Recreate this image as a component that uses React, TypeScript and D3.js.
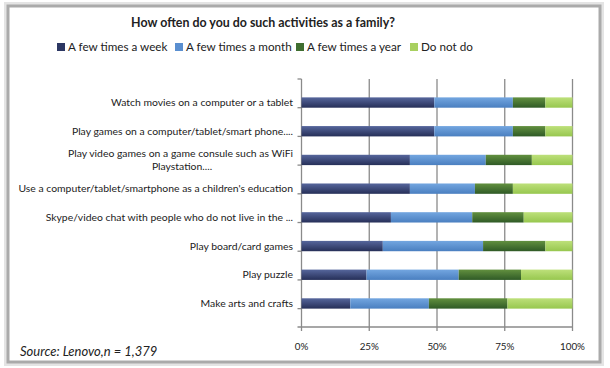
import React from 'react';
import * as d3 from 'd3';

const categories = [
  'Watch movies on a computer or a tablet',
  'Play games on a computer/tablet/smart phone....',
  'Play video games on a game consule such as WiFi|Playstation....',
  "Use a computer/tablet/smartphone as a children's education",
  'Skype/video chat with people who do not live in the ...',
  'Play board/card games',
  'Play puzzle',
  'Make arts and crafts',
];

const series = ['A few times a week', 'A few times a month', 'A few times a year', 'Do not do'];

const weekly = [49, 49, 40, 40, 33, 30, 24, 18];
const monthly = [29, 29, 28, 24, 30, 37, 34, 29];
const yearly = [12, 12, 17, 14, 19, 23, 23, 29];
const never = [10, 10, 15, 22, 18, 10, 19, 24];

const xTicks = [0, 0.25, 0.5, 0.75, 1];

// gradient stops per series (top, bottom)
const colors: [string, string][] = [
  ['#56669c', '#262f58'],
  ['#73a6e0', '#4a7fc0'],
  ['#62903f', '#2f5a26'],
  ['#bde07a', '#97c74f'],
];
const legendColors = ['#2c3763', '#5a8fd0', '#3f6e30', '#a8d060'];
const legendX = [57, 175, 296, 410];

const W = 610;
const H = 368;
const font = 'Lato, "Open Sans", sans-serif';

export default function App() {
  const rows = categories.map((c, i) => ({
    cat: c,
    [series[0]]: weekly[i],
    [series[1]]: monthly[i],
    [series[2]]: yearly[i],
    [series[3]]: never[i],
  }));
  const stacked = d3.stack<any>().keys(series).offset(d3.stackOffsetExpand)(rows);

  const x = d3.scaleLinear().domain([0, 1]).range([301.5, 572.5]);
  const y = d3.scaleBand().domain(categories).range([79, 327]).padding(0.64);
  const step = y.step();
  const top = 79;
  const bottom = 327;

  return (
    <svg width={W} height={H} style={{ position: 'absolute', left: 0, top: 0 }} fontFamily={font}>
      <defs>
        {colors.map((c, i) => (
          <linearGradient key={i} id={`g${i}`} x1="0" y1="0" x2="0" y2="1">
            <stop offset="0%" stopColor={c[0]} />
            <stop offset="100%" stopColor={c[1]} />
          </linearGradient>
        ))}
      </defs>
      <rect x={0} y={0} width={W} height={H} fill="#fff" />
      <rect x={5.5} y={3.5} width={597} height={361} fill="none" stroke="#e4e4e4" strokeWidth={3} />
      <rect x={8} y={6} width={592} height={356} fill="#fff" stroke="#aaa" strokeWidth={3} />

      <text x={263} y={27} textAnchor="middle" fontSize={12.4} fontWeight="bold" fill="#222">
        How often do you do such activities as a family?
      </text>

      {series.map((s, i) => (
        <g key={s} transform={`translate(${legendX[i]},51)`}>
          <rect x={0} y={-8} width={8} height={8} fill={legendColors[i]} />
          <text x={11} y={0} fontSize={11.7} fill="#222">{s}</text>
        </g>
      ))}

      {/* grid lines */}
      {xTicks.map((t) => (
        <line key={t} x1={x(t)} x2={x(t)} y1={top} y2={bottom + 4} stroke="#8a8a8a" strokeWidth={1.3} />
      ))}
      <line x1={x(0) - 4} x2={x(1)} y1={bottom} y2={bottom} stroke="#8a8a8a" strokeWidth={1.3} />
      {d3.range(categories.length + 1).map((i) => (
        <line key={i} x1={x(0) - 4} x2={x(0)} y1={top + i * step} y2={top + i * step} stroke="#8a8a8a" strokeWidth={1.3} />
      ))}

      {stacked.map((layer, si) => (
        <g key={layer.key} fill={`url(#g${si})`}>
          {layer.map((d, i) => (
            <rect
              key={i}
              x={x(d[0])}
              y={y(categories[i])}
              width={x(d[1]) - x(d[0])}
              height={y.bandwidth()}
            />
          ))}
        </g>
      ))}

      {categories.map((c) => {
        const lines = c.split('|');
        const cy = (y(c) as number) + y.bandwidth() / 2;
        return (
          <text key={c} fontSize={10.4} fill="#222">
            {lines.map((l, j) => (
              <tspan
                key={j}
                x={j === 0 ? 293 : 182}
                textAnchor={j === 0 ? 'end' : 'middle'}
                y={cy + 3.5 + (j - (lines.length - 1) / 2) * 13}
              >
                {l}
              </tspan>
            ))}
          </text>
        );
      })}

      {xTicks.map((t) => (
        <text key={t} x={x(t)} y={350} textAnchor="middle" fontSize={9.8} fill="#222">
          {d3.format('.0%')(t)}
        </text>
      ))}

      <text x={20} y={356} fontSize={13} fontStyle="italic" fill="#222">
        Source: Lenovo,n = 1,379
      </text>
    </svg>
  );
}
